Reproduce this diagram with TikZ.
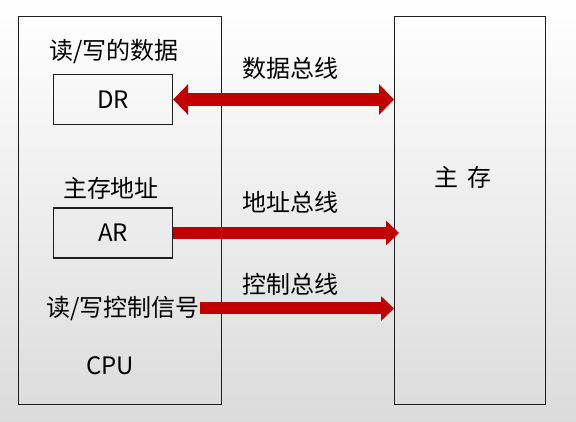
\documentclass[tikz,border=0pt]{standalone}
\usepackage{fontspec}
\setmainfont{Noto Sans CJK SC}
\usetikzlibrary{arrows.meta}
\definecolor{busred}{RGB}{192,0,0}
\definecolor{frame}{RGB}{30,30,30}
\begin{document}
\begin{tikzpicture}[x=1pt,y=-1pt,
  every node/.style={font=\fontsize{24}{28}\selectfont, text=black, inner sep=0pt},
  unit/.style={draw=frame, line width=1.3pt, rectangle, anchor=north west},
  reg/.style={draw=frame, line width=1.3pt, rectangle, minimum width=119pt, minimum height=50pt},
  label/.style={},
  bigbus/.style={busred, line width=13.5pt, -{Triangle[length=15pt,width=30pt]}},
  databus/.style={busred, line width=13.5pt, {Triangle[length=15pt,width=30pt]}-{Triangle[length=15pt,width=30pt]}},
  thinbus/.style={busred, line width=12pt, -{Triangle[length=13pt,width=24pt]}}
]
% page background: soft vertical gradient
\shade[top color=white, bottom color=black!14] (0,0) rectangle (576,422);
\useasboundingbox (0,0) rectangle (576,422);

% processor and memory frames
\node[unit, minimum width=203pt, minimum height=388pt] (cpu) at (18,16) {};
\node[unit, minimum width=151pt, minimum height=388pt] (mm) at (394,16) {};

% registers
\node[reg] (dr) at (113,99.5) {DR};
\node[reg] (ar) at (113,233) {AR};

% captions inside the processor
\node[label] (drcap) at (114,52) {读/写的数据};
\node[label] (arcap) at (111,188) {主存地址};
\node[label, anchor=east] (ctrl) at (200,308.5) {读/写控制信号};
\node[label] (cpuname) at (110,366) {CPU};

% memory caption
\node[label] (mmname) at (463,177.5) {主\hspace{9pt}存};

% bus captions
\node[label] (dbus) at (290.5,68) {数据总线};
\node[label] (abus) at (290.5,202) {地址总线};
\node[label] (cbus) at (290.5,284) {控制总线};

% buses
\draw[databus] (dr.east) -- (dr.east -| mm.west);
\draw[thinbus] (ar.east) -- ([xshift=5pt]ar.east -| mm.west);
\draw[thinbus] (ctrl.east) -- (ctrl.east -| mm.west);
\end{tikzpicture}
\end{document}
